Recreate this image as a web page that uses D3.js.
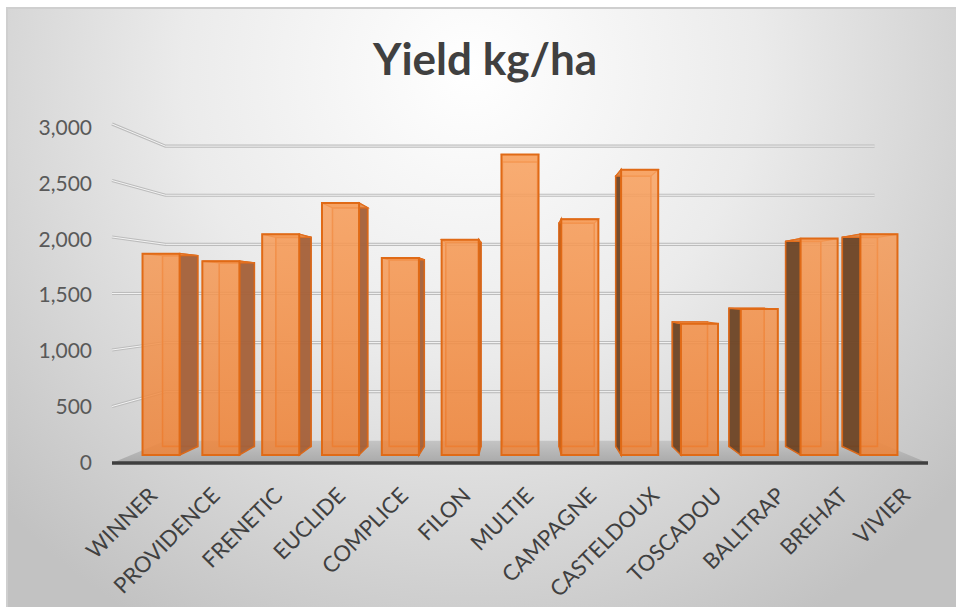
<!DOCTYPE html>
<html lang="en">
  <head>
    <meta charset="utf-8">
    <title>Yield kg/ha</title>
    <script src="https://d3js.org/d3.v7.min.js"></script>
    <style>
      body { margin: 0; background: #ffffff; }
      text { font-family: Lato, "Open Sans", sans-serif; }
    </style>
  </head>
  <body>
    <div id="chart"></div>
    <script>

    // data
    var varieties = ["WINNER", "PROVIDENCE", "FRENETIC", "EUCLIDE", "COMPLICE", "FILON", "MULTIE",
                     "CAMPAGNE", "CASTELDOUX", "TOSCADOU", "BALLTRAP", "BREHAT", "VIVIER"];
    var yieldKgHa = [1870, 1800, 2050, 2340, 1830, 2000, 2790, 2190, 2650, 1220, 1355, 2010, 2050];
    var yTicks = [0, 500, 1000, 1500, 2000, 2500, 3000];

    var width = 956, height = 607;

    var svg = d3.select("#chart")
      .append("svg")
        .attr("width", width)
        .attr("height", height);

    var defs = svg.append("defs");

    // background gradient of the chart area
    var bg = defs.append("radialGradient")
      .attr("id", "bg")
      .attr("gradientUnits", "userSpaceOnUse")
      .attr("cx", 470).attr("cy", 70).attr("r", 640);
    bg.append("stop").attr("offset", "0%").attr("stop-color", "#ffffff");
    bg.append("stop").attr("offset", "45%").attr("stop-color", "#ebebeb");
    bg.append("stop").attr("offset", "100%").attr("stop-color", "#c2c2c2");

    var barGrad = defs.append("linearGradient")
      .attr("id", "barFront")
      .attr("gradientUnits", "userSpaceOnUse")
      .attr("x1", 0).attr("y1", 150).attr("x2", 0).attr("y2", 460);
    barGrad.append("stop").attr("offset", "0%").attr("stop-color", "#f9a463");
    barGrad.append("stop").attr("offset", "100%").attr("stop-color", "#ee8236");

    var floorGrad = defs.append("linearGradient")
      .attr("id", "floor")
      .attr("x1", 0).attr("y1", 0).attr("x2", 0).attr("y2", 1);
    floorGrad.append("stop").attr("offset", "0%").attr("stop-color", "#c4c4c4");
    floorGrad.append("stop").attr("offset", "100%").attr("stop-color", "#a9a9a9");

    svg.append("rect")
      .attr("x", 7).attr("y", 8)
      .attr("width", width - 7).attr("height", height - 8)
      .attr("fill", "url(#bg)");
    svg.append("path")
      .attr("d", "M7," + height + "V8H" + width)
      .attr("fill", "none")
      .attr("stroke", "#cfcfcf")
      .attr("stroke-width", 2);

    // front plane scales (floor front edge), then perspective towards a vanishing point
    var x = d3.scaleBand()
      .domain(varieties)
      .range([112, 928])
      .paddingInner(0.38)
      .paddingOuter(0.19);

    var y = d3.scaleLinear()
      .domain([0, 3000])
      .range([463, 124]);

    var vp = [520, 293];
    var depthK = 0.1507;          // depth 0 = front of floor, 1 = back wall
    var barDepth = [0.327, 0.717];

    function project(X, Y, z) {
      var s = 1 / (1 + depthK * z);
      return [vp[0] + (X - vp[0]) * s, vp[1] + (Y - vp[1]) * s];
    }

    var line = d3.line();
    function poly(pts) { return line(pts) + "Z"; }

    var left = x.range()[0], right = x.range()[1];

    // floor
    svg.append("path")
      .attr("d", poly([project(left, y(0), 0), project(left, y(0), 1),
                       project(right, y(0), 1), project(right, y(0), 0)]))
      .attr("fill", "url(#floor)");

    // gridlines on back and side walls
    var grid = svg.append("g");
    yTicks.filter(function(d) { return d > 0; }).forEach(function(t) {
      var pts = [project(left, y(t), 0), project(left, y(t), 1), project(right, y(t), 1)];
      grid.append("path").attr("d", line(pts))
        .attr("fill", "none").attr("stroke", "#bcbcbc").attr("stroke-width", 3.2);
      grid.append("path").attr("d", line(pts))
        .attr("fill", "none").attr("stroke", "#f4f4f4").attr("stroke-width", 1);
    });

    // front edge of the floor
    svg.append("line")
      .attr("x1", left).attr("x2", right)
      .attr("y1", y(0)).attr("y2", y(0))
      .attr("stroke", "#3f3f3f")
      .attr("stroke-width", 3.5);

    // bars
    var bars = svg.append("g");
    var order = d3.range(varieties.length).sort(function(a, b) {
      var ca = Math.abs(x(varieties[a]) + x.bandwidth() / 2 - vp[0]);
      var cb = Math.abs(x(varieties[b]) + x.bandwidth() / 2 - vp[0]);
      return cb - ca;
    });

    order.forEach(function(i) {
      var x0 = x(varieties[i]), x1 = x0 + x.bandwidth();
      var yb = y(0), yt = y(yieldKgHa[i]);
      var zf = barDepth[0], zb = barDepth[1];
      var g = bars.append("g");

      // back face (seen through the translucent front)
      g.append("path")
        .attr("d", poly([project(x0, yb, zb), project(x0, yt, zb), project(x1, yt, zb), project(x1, yb, zb)]))
        .attr("fill", "#ee8a42").attr("fill-opacity", 0.25)
        .attr("stroke", "#e0671a").attr("stroke-width", 1.6);

      // visible side
      var cx = (x0 + x1) / 2;
      var sx = cx < vp[0] ? x1 : x0;
      if ((cx < vp[0] && x1 < vp[0]) || (cx > vp[0] && x0 > vp[0])) {
        g.append("path")
          .attr("d", poly([project(sx, yb, zf), project(sx, yt, zf), project(sx, yt, zb), project(sx, yb, zb)]))
          .attr("fill", cx < vp[0] ? "#a4613a" : "#6d4426")
          .attr("fill-opacity", 0.95)
          .attr("stroke", "#d9681a").attr("stroke-width", 1.5);
      }

      // top
      g.append("path")
        .attr("d", poly([project(x0, yt, zf), project(x0, yt, zb), project(x1, yt, zb), project(x1, yt, zf)]))
        .attr("fill", "#f7a565").attr("fill-opacity", 0.7)
        .attr("stroke", "#e36f1e").attr("stroke-width", 1.2);

      // front face
      g.append("path")
        .attr("d", poly([project(x0, yb, zf), project(x0, yt, zf), project(x1, yt, zf), project(x1, yb, zf)]))
        .attr("fill", "url(#barFront)").attr("fill-opacity", 0.84)
        .attr("stroke", "#e06a16").attr("stroke-width", 2);
    });

    // value axis labels
    var yLabel = d3.scaleLinear().domain([0, 3000]).range([462, 127.5]);
    svg.append("g").selectAll("text")
      .data(yTicks)
      .enter().append("text")
        .attr("x", 92)
        .attr("y", function(d) { return yLabel(d); })
        .attr("dy", "0.36em")
        .attr("text-anchor", "end")
        .attr("fill", "#595959")
        .style("font-size", "21px")
        .text(d3.format(","));

    // category labels
    var step = x.step();
    svg.append("g").selectAll("text")
      .data(varieties)
      .enter().append("text")
        .attr("transform", function(d, i) {
          var px = left + step * (i + 0.5) + 15;
          return "translate(" + px + ",497) rotate(-45)";
        })
        .attr("text-anchor", "end")
        .attr("fill", "#404040")
        .style("font-size", "22px")
        .text(function(d) { return d; });

    // title
    svg.append("text")
      .attr("x", 485)
      .attr("y", 75)
      .attr("text-anchor", "middle")
      .attr("fill", "#404040")
      .style("font-size", "44px")
      .style("font-weight", "bold")
      .text("Yield kg/ha");

    </script>
  </body>
</html>
